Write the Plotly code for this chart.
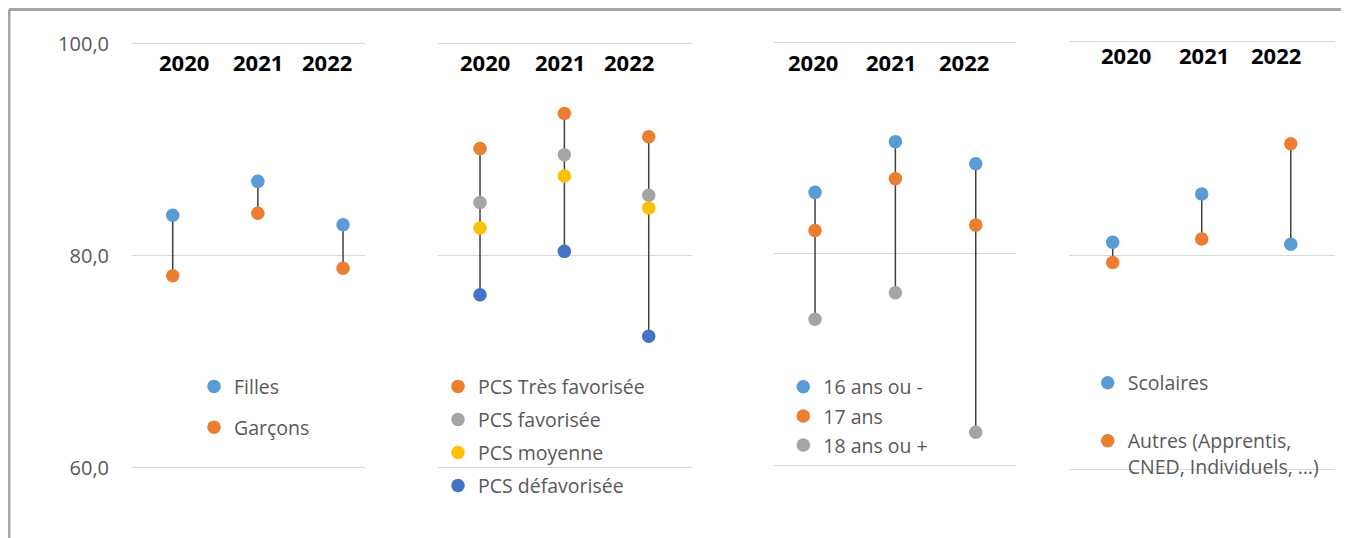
import plotly.graph_objects as go

W, H = 1349, 538
OFF = 8  # browser body margin compensation

# ---------------- data ----------------
years = ["2020", "2021", "2022"]

# Panel 1 : sexe
filles = [83.8, 87.0, 82.9]
garcons = [78.1, 84.0, 78.8]

# Panel 2 : PCS
pcs_tres_fav = [90.1, 93.4, 91.2]
pcs_fav = [85.0, 89.5, 85.7]
pcs_moy = [82.6, 87.5, 84.5]
pcs_defav = [76.3, 80.4, 72.4]

# Panel 3 : âge
age_16 = [85.8, 90.6, 88.5]
age_17 = [82.2, 87.1, 82.7]
age_18 = [73.8, 76.3, 63.1]

# Panel 4 : statut
scolaires = [81.2, 85.7, 81.0]
autres = [79.3, 81.5, 90.4]

y_ticks = [60, 80, 100]
y_tick_labels = ["60,0", "80,0", "100,0"]

# ---------------- colours ----------------
BLUE = "#5B9BD5"
ORANGE = "#ED7D31"
GREY = "#A5A5A5"
YELLOW = "#FFC000"
DBLUE = "#4472C4"

FONT = "Open Sans"

panels = [
    dict(series=[("Filles", filles, BLUE), ("Garçons", garcons, ORANGE)],
         xpx=(132, 365), xrange=(-0.478, 2.258), ypx=(43.5, 467.7),
         years_px=[184, 258, 327], years_y=62,
         legend_px=(194, 367.2), gap=12.4),
    dict(series=[("PCS Très favorisée", pcs_tres_fav, ORANGE),
                 ("PCS favorisée", pcs_fav, GREY),
                 ("PCS moyenne", pcs_moy, YELLOW),
                 ("PCS défavorisée", pcs_defav, DBLUE)],
         xpx=(438, 692), xrange=(-0.498, 2.513), ypx=(43.5, 467.7),
         years_px=[485.3, 560, 629], years_y=62,
         legend_px=(438, 367.2), gap=4.7),
    dict(series=[("16 ans ou -", age_16, BLUE), ("17 ans", age_17, ORANGE),
                 ("18 ans ou +", age_18, GREY)],
         xpx=(774.3, 1016), xrange=(-0.507, 2.501), ypx=(42.3, 465),
         years_px=[813, 891.2, 963.7], years_y=62.3,
         legend_px=(783.3, 367.6), gap=0.8),
    dict(series=[("Scolaires", scolaires, BLUE),
                 ("Autres (Apprentis,<br>CNED, Individuels, …)", autres, ORANGE)],
         xpx=(1069, 1335), xrange=(-0.491, 2.497), ypx=(41, 469),
         years_px=[1125.7, 1203.8, 1276], years_y=55,
         legend_px=(1087.7, 363.6), gap=29.6),
]


def px_x(px):
    return (px - OFF) / W


def px_y(py):
    return 1 - (py - OFF) / H


fig = go.Figure()
annotations = []
layout_axes = {}
PAD = 2.0  # value units of padding so edge gridlines are drawn

for k, p in enumerate(panels):
    n = k + 1
    xa = "x" if n == 1 else f"x{n}"
    ya = "y" if n == 1 else f"y{n}"
    lg = "legend" if n == 1 else f"legend{n}"

    # high-low connector
    lx, ly = [], []
    for i in range(len(years)):
        vals = [s[1][i] for s in p["series"]]
        lx += [i, i, None]
        ly += [min(vals), max(vals), None]
    fig.add_trace(go.Scatter(x=lx, y=ly, mode="lines", xaxis=xa, yaxis=ya,
                             line=dict(color="#404040", width=1.5),
                             showlegend=False, hoverinfo="skip", cliponaxis=False))
    for j, (name, vals, col) in enumerate(p["series"]):
        fig.add_trace(go.Scatter(x=list(range(len(years))), y=vals, mode="markers",
                                 name=name, xaxis=xa, yaxis=ya, legend=lg,
                                 legendgroup=f"{n}_{j}",
                                 marker=dict(size=13.5, color=col),
                                 cliponaxis=False))

    y100, y60 = p["ypx"]
    ppu = (y60 - y100) / 40.0
    top_px = y100 - PAD * ppu
    bot_px = y60 + PAD * ppu

    xkey = "xaxis" if n == 1 else f"xaxis{n}"
    ykey = "yaxis" if n == 1 else f"yaxis{n}"
    layout_axes[xkey] = dict(domain=[px_x(p["xpx"][0]), px_x(p["xpx"][1])],
                             range=list(p["xrange"]), anchor=ya,
                             showgrid=False, zeroline=False, showticklabels=False,
                             showline=False, ticks="", fixedrange=True)
    layout_axes[ykey] = dict(domain=[px_y(bot_px), px_y(top_px)],
                             range=[60 - PAD, 100 + PAD], anchor=xa,
                             tickvals=y_ticks, ticktext=y_tick_labels,
                             showticklabels=(n == 1),
                             tickfont=dict(family=FONT, size=20, color="#595959"),
                             ticklabelstandoff=22,
                             showgrid=True, gridcolor="#D9D9D9", gridwidth=1,
                             zeroline=False, showline=False, ticks="", fixedrange=True)
    layout_axes[lg] = dict(x=px_x(p["legend_px"][0]), y=px_y(p["legend_px"][1]),
                           xanchor="left", yanchor="top",
                           bgcolor="rgba(0,0,0,0)", borderwidth=0,
                           tracegroupgap=p["gap"], valign="top",
                           font=dict(family=FONT, size=19.5, color="#595959"))

    for yr, xpos in zip(years, p["years_px"]):
        annotations.append(dict(text=f"<b>{yr}</b>", x=px_x(xpos), y=px_y(p["years_y"]),
                                xref="paper", yref="paper", showarrow=False,
                                xanchor="center", yanchor="middle",
                                font=dict(family=FONT, size=22, color="#000000")))

fig.update_layout(
    width=W, height=H,
    margin=dict(l=0, r=0, t=0, b=0, autoexpand=False),
    paper_bgcolor="white", plot_bgcolor="white",
    annotations=annotations,
    shapes=[
        dict(type="line", xref="paper", yref="paper",
             x0=px_x(9), x1=1, y0=px_y(9.5), y1=px_y(9.5),
             line=dict(color="#A6A6A6", width=3)),
        dict(type="line", xref="paper", yref="paper",
             x0=px_x(9), x1=px_x(9), y0=0, y1=px_y(9.5),
             line=dict(color="#A6A6A6", width=3)),
    ],
    **layout_axes,
)

fig.write_html("out.html")
